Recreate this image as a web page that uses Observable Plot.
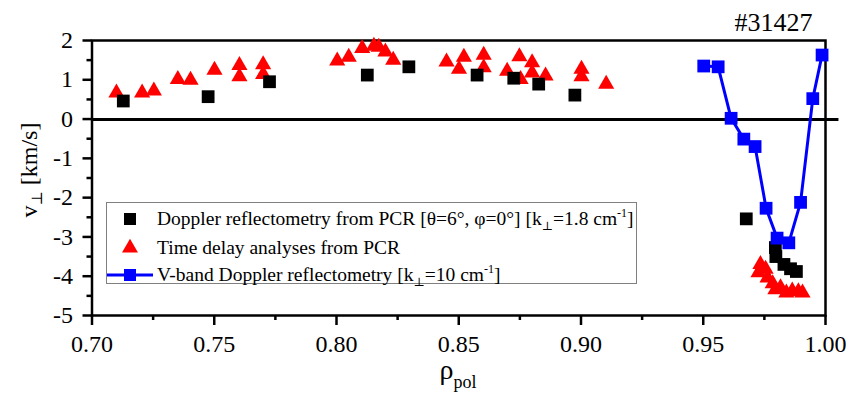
<!DOCTYPE html>
<html>
<head>
<meta charset="utf-8">
<script src="https://cdn.jsdelivr.net/npm/d3@7"></script>
<script src="https://cdn.jsdelivr.net/npm/@observablehq/plot@0.6"></script>
<style>
  html, body { margin: 0; padding: 0; background: #fff; }
  #wrap { position: relative; width: 850px; height: 396px; font-family: "Liberation Serif", "Times New Roman", "DejaVu Serif", serif; }
  #legend { position: absolute; left: 106px; top: 202px; width: 531px; height: 82px; border: 1.5px solid #808080; box-sizing: border-box; background: #fff; }
  #legend svg { position: absolute; left: -1.5px; top: -1.5px; overflow: visible; }
</style>
</head>
<body>
<div id="wrap"></div>
<script>
// ---- data ----
const shotLabel = "#31427";

// Doppler reflectometry from PCR (black squares)
const rhoDR = [0.7128, 0.7475, 0.7726, 0.8126, 0.8296, 0.8575, 0.8725, 0.8827, 0.8975, 0.9676, 0.9795, 0.9797, 0.9830, 0.9857, 0.9881];
const vDR   = [0.46, 0.57, 0.95, 1.12, 1.33, 1.12, 1.04, 0.89, 0.61, -2.54, -3.27, -3.50, -3.70, -3.81, -3.88];

// Time delay analyses from PCR (red triangles)
const rhoTD = [0.7100, 0.7205, 0.7253, 0.7351, 0.7403, 0.7501, 0.7603, 0.7603, 0.7700, 0.7700,
               0.8003, 0.8050, 0.8105, 0.8153, 0.8173, 0.8200, 0.8232, 0.8450, 0.8501, 0.8521,
               0.8602, 0.8602, 0.8698, 0.8748, 0.8753, 0.8800, 0.8800, 0.8855, 0.9002, 0.9002, 0.9103,
               0.9734, 0.9726, 0.9755, 0.9763, 0.9784, 0.9795, 0.9816, 0.9840, 0.9864, 0.9889, 0.9906];
const vTD   = [0.67, 0.67, 0.72, 1.01, 0.99, 1.25, 1.37, 1.08, 1.39, 1.14,
               1.48, 1.58, 1.80, 1.86, 1.83, 1.71, 1.50, 1.46, 1.27, 1.58,
               1.63, 1.31, 1.22, 1.59, 1.01, 1.44, 1.18, 1.10, 1.27, 1.08, 0.89,
               -3.70, -3.91, -3.82, -4.04, -4.19, -4.34, -4.29, -4.42, -4.37, -4.39, -4.42];

// V-band Doppler reflectometry (blue squares + line)
const rhoVB = [0.9502, 0.9561, 0.9614, 0.9666, 0.9712, 0.9757, 0.9802, 0.9850, 0.9898, 0.9948, 0.9986];
const vVB   = [1.35, 1.33, 0.02, -0.51, -0.70, -2.27, -3.03, -3.15, -2.12, 0.52, 1.63];

// axes
const xMajor = [0.70, 0.75, 0.80, 0.85, 0.90, 0.95, 1.00];
const xMinor = [0.725, 0.775, 0.825, 0.875, 0.925, 0.975];
const yMajor = [2, 1, 0, -1, -2, -3, -4, -5];
const yMinor = [1.5, 0.5, -0.5, -1.5, -2.5, -3.5, -4.5];
const zeroLineX = [0.70, 1.0055];

const DR = rhoDR.map((x, i) => ({x, y: vDR[i]}));
const TD = rhoTD.map((x, i) => ({x, y: vTD[i]}));
const VB = rhoVB.map((x, i) => ({x, y: vVB[i]}));

const FONT = '"Liberation Serif", "Times New Roman", "DejaVu Serif", serif';

const plot = Plot.plot({
  width: 850,
  height: 396,
  marginLeft: 91.5,
  marginRight: 25,
  marginTop: 40,
  marginBottom: 81,
  style: {fontFamily: FONT, fontSize: "24px", color: "#000", background: "#fff", overflow: "visible"},
  x: {domain: [0.70, 1.00]},
  y: {domain: [-5, 2]},
  marks: [
    Plot.ruleY([0], {x1: zeroLineX[0], x2: zeroLineX[1], stroke: "#000", strokeWidth: 3, dy: 0.5}),
    Plot.axisX({ticks: xMajor, tickSize: 10, tickPadding: 9, tickFormat: d3.format(".2f"), strokeWidth: 2.5, fontSize: 24, label: null}),
    Plot.axisX({ticks: xMinor, tickSize: 5, tickFormat: () => "", strokeWidth: 2.5, label: null}),
    Plot.axisY({ticks: yMajor, tickSize: 9, tickPadding: 10, tickFormat: d => String(d), strokeWidth: 2.5, fontSize: 24, label: null}),
    Plot.axisY({ticks: yMinor, tickSize: 5, tickFormat: () => "", strokeWidth: 2.5, label: null}),
    Plot.frame({stroke: "#000", strokeWidth: 2.5}),
    Plot.line(VB, {x: "x", y: "y", stroke: "#0000ff", strokeWidth: 3}),
    Plot.dot(TD, {x: "x", y: "y", symbol: "triangle", fill: "#ff0000", r: 6}),
    Plot.dot(DR, {x: "x", y: "y", symbol: "square", fill: "#000", r: 7.2}),
    Plot.dot(VB, {x: "x", y: "y", symbol: "square", fill: "#0000ff", r: 7.2}),
    Plot.text([shotLabel], {frameAnchor: "top-right", dx: -13, dy: -10, lineAnchor: "bottom", textAnchor: "end", fontSize: 26, fill: "#000"})
  ]
});

document.getElementById("wrap").appendChild(plot);

const svg = d3.select(plot);

// y-axis label: v⊥ [km/s]
const yl = svg.append("text")
  .attr("transform", "translate(36.5,170) rotate(-90)")
  .attr("text-anchor", "middle")
  .attr("font-family", FONT)
  .attr("font-size", 24)
  .attr("fill", "#000");
yl.append("tspan").text("v");
yl.append("tspan").attr("font-size", 15).attr("dy", 5).text("⊥");
yl.append("tspan").attr("dy", -5).text(" [km/s]");

// x-axis label: ρpol
const xl = svg.append("text")
  .attr("x", 458).attr("y", 379)
  .attr("text-anchor", "middle")
  .attr("font-family", FONT)
  .attr("font-size", 28)
  .attr("fill", "#000");
xl.append("tspan").text("ρ");
xl.append("tspan").attr("font-size", 18).attr("dy", 9).text("pol");

// legend (overlay)
const legendNames = [
  ["Doppler reflectometry from PCR [θ=6°, φ=0°] [k", "⊥", "=1.8 cm", "-1", "]"],
  ["Time delay analyses from PCR"],
  ["V-band Doppler reflectometry [k", "⊥", "=10 cm", "-1", "]"]
];
const leg = d3.select("#wrap").append("div").attr("id", "legend");
const ls = leg.append("svg").attr("width", 531).attr("height", 82);
const rowY = [17, 46, 73];
// symbols
ls.append("rect").attr("x", 24 - 6).attr("y", rowY[0] - 6).attr("width", 12).attr("height", 12).attr("fill", "#000");
ls.append("path").attr("d", d3.symbol(d3.symbolTriangle, 110)()).attr("transform", `translate(24,${rowY[1]})`).attr("fill", "#ff0000");
ls.append("line").attr("x1", 1).attr("x2", 47).attr("y1", rowY[2]).attr("y2", rowY[2]).attr("stroke", "#0000ff").attr("stroke-width", 3);
ls.append("rect").attr("x", 24 - 6).attr("y", rowY[2] - 6).attr("width", 12).attr("height", 12).attr("fill", "#0000ff");
legendNames.forEach((parts, i) => {
  const t = ls.append("text")
    .attr("x", 51).attr("y", rowY[i] + 6)
    .attr("font-family", FONT).attr("font-size", 19.5).attr("fill", "#000");
  if (parts.length === 1) { t.text(parts[0]); return; }
  t.append("tspan").text(parts[0]);
  t.append("tspan").attr("font-size", 12).attr("dy", 5).text(parts[1]);
  t.append("tspan").attr("dy", -5).text(parts[2]);
  t.append("tspan").attr("font-size", 12).attr("dy", -8).text(parts[3]);
  t.append("tspan").attr("dy", 8).text(parts[4]);
});
</script>
</body>
</html>
